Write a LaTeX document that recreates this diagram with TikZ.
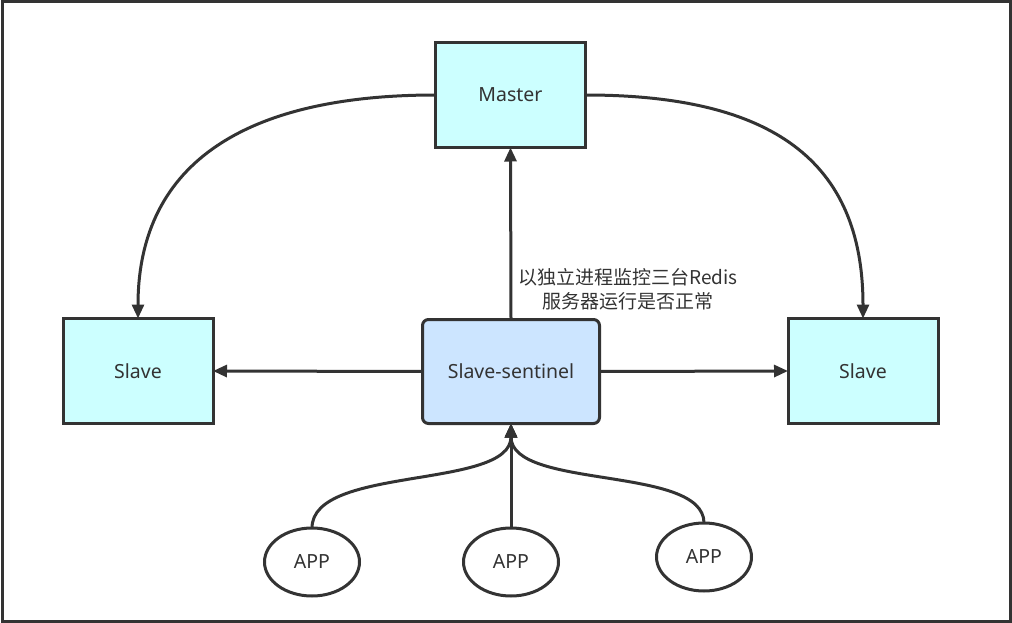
\documentclass[tikz,border=0pt]{standalone}
\usepackage{fontspec}
\setmainfont{Noto Sans}
\newfontfamily\cjk{Noto Sans CJK SC}
\usetikzlibrary{arrows.meta,shapes.geometric}
\definecolor{ink}{HTML}{333333}
\definecolor{cyanfill}{HTML}{CCFFFF}
\definecolor{bluefill}{HTML}{CCE5FF}
\tikzset{
  base/.style={draw=ink, line width=3pt, text=ink, inner sep=0pt, outer sep=0pt, font=\fontsize{19.5}{23}\selectfont},
  srvbox/.style={base, rectangle, fill=cyanfill, minimum width=150pt, minimum height=105pt},
  sentbox/.style={base, rectangle, rounded corners=6pt, fill=bluefill, minimum width=177pt, minimum height=104pt},
  appnode/.style={base, ellipse, fill=white, minimum width=95pt, minimum height=68pt},
  conn/.style={draw=ink, line width=3pt, -{Triangle[length=14pt,width=12pt]}},
}
\begin{document}
\begin{tikzpicture}[x=1pt,y=-1pt]
\useasboundingbox (0,0) rectangle (1012,623);
\draw[ink, line width=3pt] (2,2) rectangle (1010,621);
\node[srvbox] (master) at (510.5,95) {\raisebox{-2pt}{Master}};
\node[srvbox] (slaveL) at (138,371) {\raisebox{-2pt}{Slave}};
\node[srvbox] (slaveR) at (863,371) {\raisebox{-2pt}{Slave}};
\node[sentbox] (sent) at (511,371.5) {\raisebox{-2pt}{Slave-sentinel}};
\node[appnode] (app1) at (312,562) {\raisebox{-2pt}{APP}};
\node[appnode] (app2) at (511,562) {\raisebox{-2pt}{APP}};
\node[appnode] (app3) at (704,557) {\raisebox{-2pt}{APP}};
\node[text=ink, align=center, font=\cjk\fontsize{19}{24}\selectfont] (lbl) at (628,289) {以独立进程监控三台Redis\\服务器运行是否正常};
\draw[conn] (master.west) .. controls (250,95) and (138,160) .. (slaveL.north);
\draw[conn] (master.east) .. controls (771,95) and (863,160) .. (slaveR.north);
\draw[conn] (sent.north) -- (master.south);
\draw[conn] (sent.west) -- (slaveL.east);
\draw[conn] (sent.east) -- (slaveR.west);
\draw[conn] (app1.north) .. controls (312,465) and (511,490) .. (sent.south);
\draw[conn] (app3.north) .. controls (704,465) and (511,490) .. (sent.south);
\draw[conn] (app2.north) -- (sent.south);
\end{tikzpicture}
\end{document}
